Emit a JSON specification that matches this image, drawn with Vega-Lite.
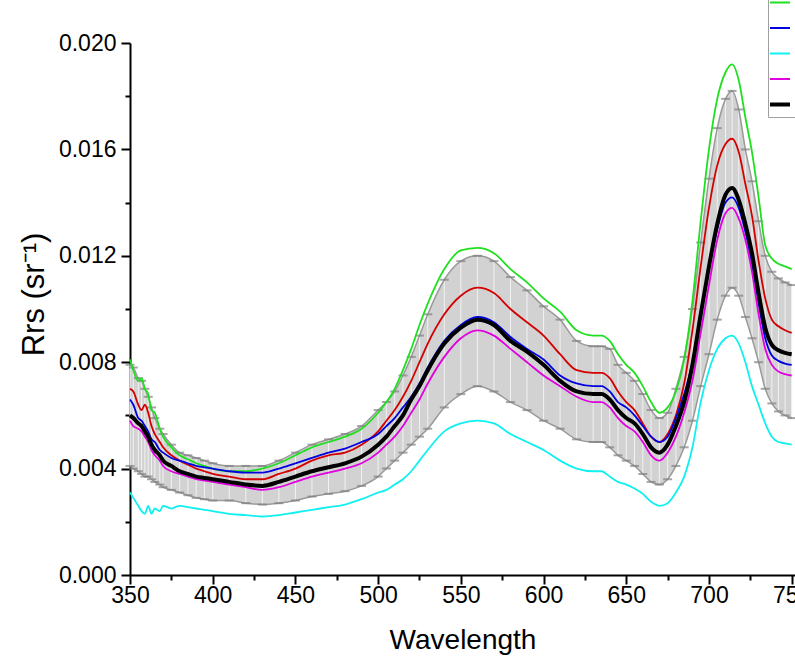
{
  "$schema": "https://vega.github.io/schema/vega-lite/v6.json",
  "width": 665,
  "height": 532,
  "autosize": {"type": "none"},
  "padding": {"left": 130, "top": 43, "right": 0, "bottom": 88},
  "background": "white",
  "title": {"text": "Zeekoevlei (10/23/23)", "font": "Liberation Sans", "fontSize": 27, "fontWeight": "normal", "color": "#000000", "anchor": "middle", "baseline": "alphabetic", "offset": 6},
  "config": {
    "view": {"stroke": null},
    "axis": {"grid": false, "domainColor": "#000000", "domainWidth": 2, "tickColor": "#000000", "tickWidth": 2, "labelFont": "Liberation Sans", "labelFontSize": 23, "labelColor": "#000000", "titleFont": "Liberation Sans", "titleFontSize": 28, "titleFontWeight": "normal", "titleColor": "#000000", "labelFlush": false, "labelBound": false, "labelOverlap": false}
  },
  "datasets": {
    "d": [
      {"wl": 350, "Site 2": 0.0081, "Site 1": 0.0070, "Site 3": 0.0066, "Site 4": 0.0031, "Site 5": 0.0058, "Mean": 0.0060, "lo": 0.0041, "hi": 0.0079},
      {"wl": 352, "Site 2": 0.0077, "Site 1": 0.0069, "Site 3": 0.0064, "Site 4": 0.0029, "Site 5": 0.0056, "Mean": 0.0059, "lo": 0.0040, "hi": 0.0078},
      {"wl": 355, "Site 2": 0.0073, "Site 1": 0.0064, "Site 3": 0.0059, "Site 4": 0.0026, "Site 5": 0.0055, "Mean": 0.0057, "lo": 0.0039, "hi": 0.0074},
      {"wl": 357, "Site 2": 0.0074, "Site 1": 0.0062, "Site 3": 0.0058, "Site 4": 0.0024, "Site 5": 0.0054, "Mean": 0.0056, "lo": 0.0038, "hi": 0.0073},
      {"wl": 359, "Site 2": 0.0070, "Site 1": 0.0064, "Site 3": 0.0056, "Site 4": 0.0023, "Site 5": 0.0052, "Mean": 0.0054, "lo": 0.0037, "hi": 0.0070},
      {"wl": 361, "Site 2": 0.0068, "Site 1": 0.0061, "Site 3": 0.0054, "Site 4": 0.0026, "Site 5": 0.0050, "Mean": 0.0052, "lo": 0.0037, "hi": 0.0067},
      {"wl": 363, "Site 2": 0.0062, "Site 1": 0.0056, "Site 3": 0.0051, "Site 4": 0.0023, "Site 5": 0.0047, "Mean": 0.0049, "lo": 0.0036, "hi": 0.0063},
      {"wl": 365, "Site 2": 0.0061, "Site 1": 0.0053, "Site 3": 0.0050, "Site 4": 0.0025, "Site 5": 0.0045, "Mean": 0.0047, "lo": 0.0035, "hi": 0.0059},
      {"wl": 368, "Site 2": 0.0055, "Site 1": 0.0050, "Site 3": 0.0047, "Site 4": 0.0024, "Site 5": 0.0043, "Mean": 0.0045, "lo": 0.0034, "hi": 0.0055},
      {"wl": 370, "Site 2": 0.0052, "Site 1": 0.0048, "Site 3": 0.0046, "Site 4": 0.0026, "Site 5": 0.0041, "Mean": 0.0043, "lo": 0.0033, "hi": 0.0053},
      {"wl": 375, "Site 2": 0.0048, "Site 1": 0.0045, "Site 3": 0.0044, "Site 4": 0.0025, "Site 5": 0.0039, "Mean": 0.0041, "lo": 0.0032, "hi": 0.0049},
      {"wl": 380, "Site 2": 0.0045, "Site 1": 0.0043, "Site 3": 0.0043, "Site 4": 0.0026, "Site 5": 0.0038, "Mean": 0.0039, "lo": 0.0031, "hi": 0.0046},
      {"wl": 385, "Site 2": 0.00435, "Site 1": 0.00415, "Site 3": 0.0042, "Site 4": 0.00255, "Site 5": 0.0037, "Mean": 0.0038, "lo": 0.0030, "hi": 0.0045},
      {"wl": 390, "Site 2": 0.0042, "Site 1": 0.0040, "Site 3": 0.0041, "Site 4": 0.0025, "Site 5": 0.0036, "Mean": 0.0037, "lo": 0.0029, "hi": 0.0044},
      {"wl": 395, "Site 2": 0.0041, "Site 1": 0.0039, "Site 3": 0.00405, "Site 4": 0.00245, "Site 5": 0.00355, "Mean": 0.00365, "lo": 0.00285, "hi": 0.0043},
      {"wl": 400, "Site 2": 0.0040, "Site 1": 0.0038, "Site 3": 0.0040, "Site 4": 0.0024, "Site 5": 0.0035, "Mean": 0.0036, "lo": 0.0028, "hi": 0.0042},
      {"wl": 410, "Site 2": 0.0039, "Site 1": 0.0037, "Site 3": 0.0039, "Site 4": 0.0023, "Site 5": 0.0034, "Mean": 0.0035, "lo": 0.0028, "hi": 0.0041},
      {"wl": 420, "Site 2": 0.0039, "Site 1": 0.0036, "Site 3": 0.00385, "Site 4": 0.00225, "Site 5": 0.0033, "Mean": 0.0034, "lo": 0.0027, "hi": 0.0041},
      {"wl": 430, "Site 2": 0.0040, "Site 1": 0.0036, "Site 3": 0.00385, "Site 4": 0.0022, "Site 5": 0.0032, "Mean": 0.00335, "lo": 0.00265, "hi": 0.0041},
      {"wl": 440, "Site 2": 0.0042, "Site 1": 0.0038, "Site 3": 0.0040, "Site 4": 0.00225, "Site 5": 0.0033, "Mean": 0.0035, "lo": 0.0027, "hi": 0.0043},
      {"wl": 450, "Site 2": 0.0045, "Site 1": 0.0040, "Site 3": 0.0042, "Site 4": 0.00235, "Site 5": 0.0035, "Mean": 0.0037, "lo": 0.0028, "hi": 0.0046},
      {"wl": 460, "Site 2": 0.0048, "Site 1": 0.0043, "Site 3": 0.0044, "Site 4": 0.00245, "Site 5": 0.0037, "Mean": 0.0039, "lo": 0.00295, "hi": 0.0049},
      {"wl": 470, "Site 2": 0.0050, "Site 1": 0.0045, "Site 3": 0.0046, "Site 4": 0.00255, "Site 5": 0.00385, "Mean": 0.00405, "lo": 0.00305, "hi": 0.0051},
      {"wl": 480, "Site 2": 0.0052, "Site 1": 0.0046, "Site 3": 0.00475, "Site 4": 0.00265, "Site 5": 0.0040, "Mean": 0.0042, "lo": 0.00315, "hi": 0.0053},
      {"wl": 490, "Site 2": 0.0055, "Site 1": 0.0049, "Site 3": 0.0050, "Site 4": 0.00285, "Site 5": 0.0042, "Mean": 0.00445, "lo": 0.00335, "hi": 0.0056},
      {"wl": 500, "Site 2": 0.0061, "Site 1": 0.0054, "Site 3": 0.0053, "Site 4": 0.0031, "Site 5": 0.0046, "Mean": 0.0049, "lo": 0.0037, "hi": 0.0062},
      {"wl": 505, "Site 2": 0.0065, "Site 1": 0.0058, "Site 3": 0.0056, "Site 4": 0.0032, "Site 5": 0.0049, "Mean": 0.0052, "lo": 0.0040, "hi": 0.0065},
      {"wl": 510, "Site 2": 0.0070, "Site 1": 0.0062, "Site 3": 0.0059, "Site 4": 0.0034, "Site 5": 0.0052, "Mean": 0.0056, "lo": 0.0043, "hi": 0.0069},
      {"wl": 515, "Site 2": 0.0077, "Site 1": 0.0067, "Site 3": 0.0063, "Site 4": 0.0036, "Site 5": 0.0056, "Mean": 0.0060, "lo": 0.0046, "hi": 0.0075},
      {"wl": 520, "Site 2": 0.0085, "Site 1": 0.0073, "Site 3": 0.0067, "Site 4": 0.0039, "Site 5": 0.0061, "Mean": 0.0066, "lo": 0.0049, "hi": 0.0082},
      {"wl": 525, "Site 2": 0.0094, "Site 1": 0.0080, "Site 3": 0.0072, "Site 4": 0.0043, "Site 5": 0.0066, "Mean": 0.0071, "lo": 0.0052, "hi": 0.0090},
      {"wl": 530, "Site 2": 0.0102, "Site 1": 0.0087, "Site 3": 0.0078, "Site 4": 0.0047, "Site 5": 0.0072, "Mean": 0.0077, "lo": 0.0055, "hi": 0.0098},
      {"wl": 540, "Site 2": 0.0115, "Site 1": 0.0098, "Site 3": 0.0088, "Site 4": 0.0054, "Site 5": 0.0082, "Mean": 0.0087, "lo": 0.0063, "hi": 0.0111},
      {"wl": 550, "Site 2": 0.0122, "Site 1": 0.0105, "Site 3": 0.0094, "Site 4": 0.0057, "Site 5": 0.0089, "Mean": 0.0093, "lo": 0.0068, "hi": 0.0118},
      {"wl": 560, "Site 2": 0.0123, "Site 1": 0.0108, "Site 3": 0.0097, "Site 4": 0.0058, "Site 5": 0.0092, "Mean": 0.0096, "lo": 0.0071, "hi": 0.0120},
      {"wl": 570, "Site 2": 0.0121, "Site 1": 0.0106, "Site 3": 0.0095, "Site 4": 0.0057, "Site 5": 0.0090, "Mean": 0.0094, "lo": 0.0069, "hi": 0.0118},
      {"wl": 580, "Site 2": 0.0115, "Site 1": 0.0100, "Site 3": 0.00895, "Site 4": 0.0053, "Site 5": 0.0085, "Mean": 0.0088, "lo": 0.0065, "hi": 0.0112},
      {"wl": 590, "Site 2": 0.0110, "Site 1": 0.0095, "Site 3": 0.0085, "Site 4": 0.0050, "Site 5": 0.0080, "Mean": 0.0084, "lo": 0.0062, "hi": 0.0107},
      {"wl": 600, "Site 2": 0.0104, "Site 1": 0.0090, "Site 3": 0.0081, "Site 4": 0.0047, "Site 5": 0.0075, "Mean": 0.0079, "lo": 0.0058, "hi": 0.0101},
      {"wl": 610, "Site 2": 0.0099, "Site 1": 0.0083, "Site 3": 0.0075, "Site 4": 0.0043, "Site 5": 0.0071, "Mean": 0.0073, "lo": 0.0055, "hi": 0.0096},
      {"wl": 620, "Site 2": 0.0092, "Site 1": 0.0077, "Site 3": 0.0072, "Site 4": 0.0040, "Site 5": 0.0067, "Mean": 0.0069, "lo": 0.0051, "hi": 0.0088},
      {"wl": 630, "Site 2": 0.0090, "Site 1": 0.0076, "Site 3": 0.0071, "Site 4": 0.0039, "Site 5": 0.0065, "Mean": 0.0068, "lo": 0.0050, "hi": 0.0086},
      {"wl": 635, "Site 2": 0.0090, "Site 1": 0.0076, "Site 3": 0.0071, "Site 4": 0.0039, "Site 5": 0.0065, "Mean": 0.0068, "lo": 0.0050, "hi": 0.0086},
      {"wl": 640, "Site 2": 0.0088, "Site 1": 0.0074, "Site 3": 0.0069, "Site 4": 0.0037, "Site 5": 0.0063, "Mean": 0.0066, "lo": 0.0048, "hi": 0.0085},
      {"wl": 645, "Site 2": 0.0083, "Site 1": 0.0069, "Site 3": 0.0065, "Site 4": 0.0035, "Site 5": 0.0059, "Mean": 0.0062, "lo": 0.0045, "hi": 0.0079},
      {"wl": 650, "Site 2": 0.0079, "Site 1": 0.0065, "Site 3": 0.0063, "Site 4": 0.0034, "Site 5": 0.0056, "Mean": 0.0059, "lo": 0.0043, "hi": 0.0076},
      {"wl": 655, "Site 2": 0.0076, "Site 1": 0.0062, "Site 3": 0.0060, "Site 4": 0.00325, "Site 5": 0.0054, "Mean": 0.0057, "lo": 0.0041, "hi": 0.0073},
      {"wl": 660, "Site 2": 0.0071, "Site 1": 0.0057, "Site 3": 0.0056, "Site 4": 0.00305, "Site 5": 0.0050, "Mean": 0.0053, "lo": 0.0038, "hi": 0.0068},
      {"wl": 665, "Site 2": 0.0065, "Site 1": 0.0052, "Site 3": 0.0052, "Site 4": 0.00275, "Site 5": 0.0045, "Mean": 0.0048, "lo": 0.0035, "hi": 0.0062},
      {"wl": 670, "Site 2": 0.0061, "Site 1": 0.0050, "Site 3": 0.0050, "Site 4": 0.0026, "Site 5": 0.0043, "Mean": 0.0046, "lo": 0.0034, "hi": 0.0059},
      {"wl": 675, "Site 2": 0.0063, "Site 1": 0.0053, "Site 3": 0.0052, "Site 4": 0.0027, "Site 5": 0.0046, "Mean": 0.0049, "lo": 0.0036, "hi": 0.0061},
      {"wl": 680, "Site 2": 0.0069, "Site 1": 0.0060, "Site 3": 0.0059, "Site 4": 0.0031, "Site 5": 0.0052, "Mean": 0.0056, "lo": 0.0041, "hi": 0.0070},
      {"wl": 685, "Site 2": 0.0081, "Site 1": 0.0072, "Site 3": 0.0068, "Site 4": 0.0037, "Site 5": 0.0061, "Mean": 0.0065, "lo": 0.0048, "hi": 0.0082},
      {"wl": 690, "Site 2": 0.0103, "Site 1": 0.0092, "Site 3": 0.0080, "Site 4": 0.0048, "Site 5": 0.0073, "Mean": 0.0079, "lo": 0.0058, "hi": 0.0100},
      {"wl": 695, "Site 2": 0.0133, "Site 1": 0.0116, "Site 3": 0.0097, "Site 4": 0.0065, "Site 5": 0.0091, "Mean": 0.0098, "lo": 0.0071, "hi": 0.0125},
      {"wl": 700, "Site 2": 0.0160, "Site 1": 0.0138, "Site 3": 0.0115, "Site 4": 0.0077, "Site 5": 0.0109, "Mean": 0.0116, "lo": 0.0083, "hi": 0.0149},
      {"wl": 705, "Site 2": 0.0179, "Site 1": 0.0154, "Site 3": 0.0130, "Site 4": 0.0085, "Site 5": 0.0126, "Mean": 0.0132, "lo": 0.0096, "hi": 0.0168},
      {"wl": 710, "Site 2": 0.0189, "Site 1": 0.0162, "Site 3": 0.0140, "Site 4": 0.0089, "Site 5": 0.0136, "Mean": 0.0143, "lo": 0.0105, "hi": 0.0179},
      {"wl": 714, "Site 2": 0.0192, "Site 1": 0.0164, "Site 3": 0.0142, "Site 4": 0.0090, "Site 5": 0.0138, "Mean": 0.01455, "lo": 0.0108, "hi": 0.0182},
      {"wl": 718, "Site 2": 0.0186, "Site 1": 0.0159, "Site 3": 0.0138, "Site 4": 0.0087, "Site 5": 0.0134, "Mean": 0.0141, "lo": 0.0105, "hi": 0.0175},
      {"wl": 722, "Site 2": 0.0172, "Site 1": 0.0147, "Site 3": 0.0129, "Site 4": 0.0080, "Site 5": 0.0126, "Mean": 0.0132, "lo": 0.0097, "hi": 0.0160},
      {"wl": 726, "Site 2": 0.0159, "Site 1": 0.0135, "Site 3": 0.0117, "Site 4": 0.0071, "Site 5": 0.0114, "Mean": 0.0121, "lo": 0.0089, "hi": 0.0148},
      {"wl": 730, "Site 2": 0.0142, "Site 1": 0.0118, "Site 3": 0.0102, "Site 4": 0.0064, "Site 5": 0.0098, "Mean": 0.0106, "lo": 0.0080, "hi": 0.0133},
      {"wl": 734, "Site 2": 0.0124, "Site 1": 0.0104, "Site 3": 0.0089, "Site 4": 0.0057, "Site 5": 0.0085, "Mean": 0.0093, "lo": 0.0070, "hi": 0.0120},
      {"wl": 738, "Site 2": 0.0119, "Site 1": 0.0096, "Site 3": 0.00825, "Site 4": 0.0052, "Site 5": 0.0079, "Mean": 0.00865, "lo": 0.00645, "hi": 0.0114},
      {"wl": 742, "Site 2": 0.0117, "Site 1": 0.00935, "Site 3": 0.00805, "Site 4": 0.0050, "Site 5": 0.00765, "Mean": 0.00845, "lo": 0.00615, "hi": 0.01115},
      {"wl": 746, "Site 2": 0.0116, "Site 1": 0.0092, "Site 3": 0.00795, "Site 4": 0.00495, "Site 5": 0.00755, "Mean": 0.00835, "lo": 0.0060, "hi": 0.0110},
      {"wl": 750, "Site 2": 0.0115, "Site 1": 0.0091, "Site 3": 0.0079, "Site 4": 0.0049, "Site 5": 0.0075, "Mean": 0.0083, "lo": 0.0059, "hi": 0.0109}
    ]
  },
  "data": {"name": "d"},
  "resolve": {"axis": {"x": "independent", "y": "independent"}},
  "layer": [
    {
      "mark": {"type": "area", "color": "#d2d2d2", "interpolate": "monotone"},
      "encoding": {
        "x": {"field": "wl", "type": "quantitative", "scale": {"domain": [350, 752], "nice": false, "zero": false},
              "axis": {"values": [350, 400, 450, 500, 550, 600, 650, 700, 750], "format": "d", "title": "Wavelength", "tickSize": 9, "labelPadding": 0, "titlePadding": 19}},
        "y": {"field": "lo", "type": "quantitative", "scale": {"domain": [0, 0.02], "nice": false, "zero": false},
              "axis": {"values": [0, 0.004, 0.008, 0.012, 0.016, 0.02], "format": ".3f", "title": "Rrs (sr⁻¹)", "titleFontSize": 31, "titleY": 251, "tickSize": 9, "labelPadding": 5, "titlePadding": 8}},
        "y2": {"field": "hi"}
      }
    },
    {
      "mark": {"type": "rule", "color": "#f2f2f2", "strokeWidth": 1},
      "encoding": {
        "x": {"field": "wl", "type": "quantitative", "axis": null},
        "y": {"field": "lo", "type": "quantitative", "axis": null},
        "y2": {"field": "hi"}
      }
    },
    {
      "mark": {"type": "line", "color": "#9a9a9a", "strokeWidth": 1.5, "interpolate": "monotone"},
      "encoding": {
        "x": {"field": "wl", "type": "quantitative",
              "axis": {"values": [375, 425, 475, 525, 575, 625, 675, 725], "labels": false, "domain": false, "title": null, "tickSize": 5, "orient": "bottom"}},
        "y": {"field": "lo", "type": "quantitative",
              "axis": {"values": [0.002, 0.006, 0.01, 0.014, 0.018], "labels": false, "domain": false, "title": null, "tickSize": 5, "orient": "left"}}
      }
    },
    {
      "mark": {"type": "line", "color": "#9a9a9a", "strokeWidth": 1.5, "interpolate": "monotone"},
      "encoding": {
        "x": {"field": "wl", "type": "quantitative", "axis": null},
        "y": {"field": "hi", "type": "quantitative", "axis": null}
      }
    },
    {
      "mark": {"type": "tick", "orient": "horizontal", "color": "#808080", "size": 9, "thickness": 2},
      "encoding": {
        "x": {"field": "wl", "type": "quantitative", "axis": null},
        "y": {"field": "lo", "type": "quantitative", "axis": null}
      }
    },
    {
      "mark": {"type": "tick", "orient": "horizontal", "color": "#808080", "size": 9, "thickness": 2},
      "encoding": {
        "x": {"field": "wl", "type": "quantitative", "axis": null},
        "y": {"field": "hi", "type": "quantitative", "axis": null}
      }
    },
    {
      "transform": [{"fold": ["Site 1", "Site 2", "Site 3", "Site 4", "Site 5"], "as": ["series", "v"]}],
      "mark": {"type": "line", "interpolate": "monotone", "strokeWidth": 1.8},
      "encoding": {
        "x": {"field": "wl", "type": "quantitative", "axis": null},
        "y": {"field": "v", "type": "quantitative", "axis": null},
        "color": {"field": "series", "type": "nominal",
                  "scale": {"domain": ["Site 1", "Site 2", "Site 3", "Site 4", "Site 5", "Mean"], "range": ["#d40000", "#1fe01f", "#0000e0", "#10f0f0", "#e000e0", "#000000"]},
                  "legend": {"orient": "none", "legendX": 638, "legendY": -78, "title": null, "symbolType": "stroke", "symbolSize": 400, "labelFont": "Liberation Sans", "labelFontSize": 18, "labelColor": "#000000", "rowPadding": 7.5, "padding": 3, "strokeColor": "#a0a0a0", "fillColor": "white", "labelOffset": 6,
                             "encode": {"symbols": {"update": {"strokeWidth": {"signal": "datum.value === 'Mean' ? 4 : 2"}}}}}}
      }
    },
    {
      "transform": [{"fold": ["Mean"], "as": ["series", "v"]}],
      "mark": {"type": "line", "interpolate": "monotone", "strokeWidth": 4},
      "encoding": {
        "x": {"field": "wl", "type": "quantitative", "axis": null},
        "y": {"field": "v", "type": "quantitative", "axis": null},
        "color": {"field": "series", "type": "nominal"}
      }
    }
  ]
}
